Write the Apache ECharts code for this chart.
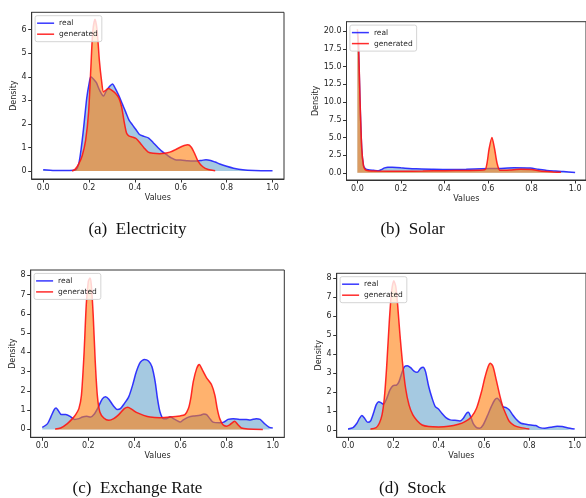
<!DOCTYPE html>
<html>
<head>
<meta charset="utf-8">
<script src="https://cdn.jsdelivr.net/npm/echarts@6/dist/echarts.min.js"></script>
<style>html,body{margin:0;padding:0;background:#fff;}#c{width:586px;height:498px;}</style>
</head>
<body>
<div id="c"></div>
<script>
// ---- data ----
const captions = ['(a)  Electricity', '(b)  Solar', '(c)  Exchange Rate', '(d)  Stock'];
const xTicks = [0, 0.2, 0.4, 0.6, 0.8, 1.0];
const yTicksA = [0, 1, 2, 3, 4, 5, 6];
const yTicksB = [0, 2.5, 5, 7.5, 10, 12.5, 15, 17.5, 20];
const yTicksC = [0, 1, 2, 3, 4, 5, 6, 7, 8];
const yTicksD = [0, 1, 2, 3, 4, 5, 6, 7, 8];

const elecRealX = [0, 0.05, 0.10, 0.14, 0.155, 0.165, 0.176, 0.19, 0.2, 0.208, 0.22, 0.232, 0.245, 0.263, 0.275, 0.29, 0.302, 0.315, 0.33, 0.345, 0.36, 0.375, 0.39, 0.405, 0.42, 0.44, 0.46, 0.48, 0.50, 0.52, 0.54, 0.56, 0.58, 0.60, 0.63, 0.66, 0.69, 0.71, 0.73, 0.75, 0.77, 0.80, 0.83, 0.87, 0.92, 1.0];
const elecRealY = [0.05, 0.02, 0.02, 0.04, 0.3, 0.9, 1.8, 3.1, 3.7, 4.0, 3.9, 3.75, 3.45, 3.18, 3.4, 3.6, 3.7, 3.5, 3.2, 2.85, 2.5, 2.15, 1.95, 1.75, 1.55, 1.47, 1.4, 1.2, 1.0, 0.82, 0.68, 0.55, 0.47, 0.47, 0.43, 0.42, 0.45, 0.48, 0.45, 0.38, 0.3, 0.2, 0.12, 0.05, 0.02, 0.01];
const elecGenX = [0.126, 0.14, 0.155, 0.17, 0.185, 0.198, 0.208, 0.216, 0.226, 0.235, 0.245, 0.255, 0.263, 0.275, 0.285, 0.3, 0.315, 0.33, 0.342, 0.353, 0.364, 0.375, 0.39, 0.405, 0.422, 0.44, 0.458, 0.48, 0.508, 0.53, 0.552, 0.575, 0.595, 0.615, 0.631, 0.645, 0.66, 0.675, 0.696, 0.72, 0.75];
const elecGenY = [0.0, 0.08, 0.3, 0.65, 1.3, 2.5, 4.4, 5.9, 6.45, 6.0, 4.7, 3.8, 3.36, 3.45, 3.5, 3.42, 3.3, 3.1, 2.72, 2.1, 1.6, 1.48, 1.44, 1.38, 1.2, 0.98, 0.8, 0.75, 0.73, 0.75, 0.8, 0.9, 1.0, 1.08, 1.11, 1.02, 0.75, 0.42, 0.18, 0.06, 0.01];

const solarRealX = [0, 0.005, 0.012, 0.02, 0.028, 0.036, 0.05, 0.075, 0.096, 0.11, 0.125, 0.14, 0.16, 0.2, 0.27, 0.35, 0.42, 0.5, 0.57, 0.65, 0.72, 0.795, 0.83, 0.87, 0.91, 0.946, 1.0];
const solarRealY = [19.8, 17.8, 10.2, 3.4, 1.0, 0.6, 0.42, 0.35, 0.3, 0.45, 0.7, 0.8, 0.78, 0.7, 0.56, 0.5, 0.47, 0.5, 0.56, 0.62, 0.7, 0.66, 0.5, 0.33, 0.25, 0.19, 0.05];
const solarGenX = [0, 0.005, 0.012, 0.02, 0.028, 0.036, 0.05, 0.09, 0.2, 0.3, 0.4, 0.5, 0.585, 0.595, 0.605, 0.618, 0.63, 0.642, 0.655, 0.7, 0.75, 0.8, 0.84, 0.9, 0.935];
const solarGenY = [20.3, 18.3, 10.5, 3.5, 1.0, 0.45, 0.3, 0.25, 0.22, 0.25, 0.3, 0.33, 0.42, 1.3, 3.4, 5.0, 3.4, 1.3, 0.35, 0.4, 0.5, 0.45, 0.25, 0.12, 0.06];

const exchRealX = [0, 0.023, 0.037, 0.052, 0.06, 0.069, 0.083, 0.102, 0.121, 0.141, 0.159, 0.174, 0.193, 0.21, 0.224, 0.241, 0.26, 0.274, 0.289, 0.307, 0.325, 0.339, 0.356, 0.375, 0.392, 0.408, 0.425, 0.443, 0.461, 0.476, 0.49, 0.5, 0.511, 0.526, 0.54, 0.555, 0.569, 0.583, 0.598, 0.612, 0.634, 0.655, 0.684, 0.701, 0.713, 0.727, 0.741, 0.77, 0.787, 0.806, 0.828, 0.856, 0.885, 0.902, 0.928, 0.945, 0.964, 0.983, 1.0];
const exchRealY = [0.1, 0.3, 0.64, 1.03, 1.11, 0.99, 0.77, 0.77, 0.68, 0.52, 0.56, 0.64, 0.68, 0.64, 0.77, 1.11, 1.57, 1.69, 1.57, 1.25, 1.04, 1.08, 1.34, 1.69, 2.3, 2.99, 3.48, 3.63, 3.55, 3.25, 2.47, 1.6, 0.9, 0.56, 0.56, 0.66, 0.56, 0.47, 0.38, 0.5, 0.64, 0.7, 0.73, 0.8, 0.77, 0.56, 0.38, 0.35, 0.38, 0.52, 0.56, 0.52, 0.52, 0.49, 0.56, 0.52, 0.3, 0.12, 0.07];
const exchGenX = [0.056, 0.08, 0.109, 0.131, 0.145, 0.159, 0.17, 0.181, 0.191, 0.2, 0.207, 0.213, 0.221, 0.23, 0.239, 0.25, 0.267, 0.289, 0.31, 0.332, 0.356, 0.371, 0.389, 0.411, 0.44, 0.468, 0.511, 0.555, 0.598, 0.619, 0.634, 0.644, 0.655, 0.67, 0.681, 0.695, 0.713, 0.734, 0.749, 0.759, 0.77, 0.784, 0.799, 0.813, 0.835, 0.849, 0.864, 0.892, 0.957];
const exchGenY = [0.02, 0.07, 0.3, 0.56, 0.77, 1.08, 1.77, 3.86, 6.47, 7.69, 7.86, 7.51, 5.95, 3.51, 1.77, 0.9, 0.59, 0.47, 0.56, 0.77, 1.08, 1.15, 1.04, 0.87, 0.73, 0.64, 0.61, 0.64, 0.7, 0.77, 1.08, 1.6, 2.47, 3.17, 3.37, 3.08, 2.68, 2.33, 1.77, 1.08, 0.56, 0.24, 0.17, 0.24, 0.42, 0.24, 0.07, 0.02, 0.0];

const stockRealX = [0, 0.022, 0.039, 0.051, 0.061, 0.073, 0.087, 0.099, 0.112, 0.124, 0.135, 0.145, 0.156, 0.17, 0.185, 0.199, 0.214, 0.225, 0.237, 0.249, 0.262, 0.276, 0.291, 0.305, 0.32, 0.331, 0.342, 0.356, 0.371, 0.385, 0.4, 0.414, 0.432, 0.451, 0.472, 0.494, 0.509, 0.523, 0.531, 0.541, 0.552, 0.567, 0.581, 0.596, 0.618, 0.632, 0.647, 0.658, 0.672, 0.683, 0.698, 0.712, 0.727, 0.741, 0.763, 0.785, 0.807, 0.828, 0.847, 0.868, 0.894, 0.923, 0.945, 0.967, 1.0];
const stockRealY = [0.05, 0.12, 0.35, 0.62, 0.76, 0.62, 0.4, 0.47, 0.88, 1.32, 1.49, 1.44, 1.35, 1.64, 2.11, 2.34, 2.37, 2.55, 2.99, 3.34, 3.39, 3.29, 3.11, 3.04, 3.25, 3.31, 3.08, 2.29, 1.67, 1.23, 1.09, 0.88, 0.65, 0.53, 0.51, 0.47, 0.62, 0.88, 0.93, 0.7, 0.35, 0.12, 0.09, 0.26, 0.83, 1.23, 1.58, 1.67, 1.49, 1.23, 1.18, 1.05, 0.79, 0.58, 0.35, 0.3, 0.26, 0.23, 0.12, 0.09, 0.14, 0.19, 0.18, 0.12, 0.05];
const stockGenX = [0.099, 0.124, 0.138, 0.15, 0.16, 0.17, 0.182, 0.192, 0.202, 0.211, 0.219, 0.228, 0.24, 0.254, 0.269, 0.286, 0.305, 0.327, 0.356, 0.4, 0.443, 0.487, 0.516, 0.545, 0.567, 0.589, 0.603, 0.618, 0.628, 0.64, 0.654, 0.669, 0.683, 0.698, 0.712, 0.734, 0.763, 0.8];
const stockGenY = [0.05, 0.12, 0.35, 0.79, 1.67, 3.25, 5.71, 7.3, 7.88, 7.56, 6.59, 5.19, 3.6, 2.2, 1.32, 0.79, 0.49, 0.26, 0.18, 0.16, 0.19, 0.3, 0.44, 0.7, 1.14, 2.02, 2.73, 3.34, 3.52, 3.34, 2.64, 1.85, 1.23, 0.79, 0.44, 0.23, 0.12, 0.05];

// ---- layout ----
const zip = (xs, ys) => xs.map((x, i) => [x, ys[i]]);
const panels = [
  { grid: {left: 31.7, top: 12.3, width: 252.3, height: 166.7}, ymin: -0.34, ymax: 6.74, yt: yTicksA, yfmt: v => String(v), rx: elecRealX, ry: elecRealY, gx: elecGenX, gy: elecGenY, yGap: 11, cap: [137.5, 230] },
  { grid: {left: 346.5, top: 21.7, width: 243.4, height: 158.3}, ymin: -1.02, ymax: 21.37, yt: yTicksB, yfmt: v => v.toFixed(1), rx: solarRealX, ry: solarRealY, gx: solarGenX, gy: solarGenY, yGap: 22, cap: [412.5, 230] },
  { grid: {left: 30.7, top: 270, width: 253.6, height: 167.3}, ymin: -0.41, ymax: 8.28, yt: yTicksC, yfmt: v => String(v), rx: exchRealX, ry: exchRealY, gx: exchGenX, gy: exchGenY, yGap: 11, cap: [137.5, 489] },
  { grid: {left: 336.7, top: 273.3, width: 252.2, height: 164}, ymin: -0.39, ymax: 8.27, yt: yTicksD, yfmt: v => String(v), rx: stockRealX, ry: stockRealY, gx: stockGenX, gy: stockGenY, yGap: 11, cap: [412.5, 489] }
];

const font = 'DejaVu Sans';
const axisCol = '#333';
const txtCol = '#262626';
const grids = [], xAxes = [], yAxes = [], series = [], legends = [], graphics = [];
panels.forEach((p, i) => {
  grids.push(Object.assign({show: true, borderColor: axisCol, borderWidth: 1, backgroundColor: 'transparent'}, p.grid));
  xAxes.push({
    type: 'value', gridIndex: i, min: -0.05, max: 1.05,
    name: 'Values', nameLocation: 'middle', nameGap: 15,
    nameTextStyle: {fontFamily: font, fontSize: 8, color: txtCol},
    axisLine: {show: true, onZero: false, lineStyle: {color: axisCol, width: 1}},
    axisTick: {show: true, customValues: xTicks, length: 3.5, lineStyle: {color: axisCol}},
    axisLabel: {show: true, customValues: xTicks, formatter: v => v.toFixed(1), margin: 5, fontFamily: font, fontSize: 8, color: txtCol},
    splitLine: {show: false}
  });
  yAxes.push({
    type: 'value', gridIndex: i, min: p.ymin, max: p.ymax,
    name: 'Density', nameLocation: 'middle', nameGap: p.yGap, nameRotate: 90,
    nameTextStyle: {fontFamily: font, fontSize: 8, color: txtCol},
    axisLine: {show: true, onZero: false, lineStyle: {color: axisCol, width: 1}},
    axisTick: {show: true, customValues: p.yt, length: 3.5, lineStyle: {color: axisCol}},
    axisLabel: {show: true, customValues: p.yt, formatter: p.yfmt, margin: 5, fontFamily: font, fontSize: 8, color: txtCol},
    splitLine: {show: false}
  });
  series.push({
    name: 'real', type: 'line', xAxisIndex: i, yAxisIndex: i, data: zip(p.rx, p.ry),
    showSymbol: false, symbol: 'none', smooth: 0.25, color: 'rgba(20,20,255,0.85)',
    lineStyle: {color: 'rgba(20,20,255,0.85)', width: 1.5},
    areaStyle: {color: 'rgba(31,119,180,0.4)', opacity: 1, origin: 0}, z: 2, silent: true
  });
  series.push({
    name: 'generated', type: 'line', xAxisIndex: i, yAxisIndex: i, data: zip(p.gx, p.gy),
    showSymbol: false, symbol: 'none', smooth: 0.25, color: 'rgba(255,20,20,0.9)',
    lineStyle: {color: 'rgba(255,20,20,0.9)', width: 1.5},
    areaStyle: {color: 'rgba(255,127,14,0.6)', opacity: 1, origin: 0}, z: 3, silent: true
  });
  legends.push({
    left: p.grid.left + 3.4, top: p.grid.top + 3.4, orient: 'vertical',
    data: ['real', 'generated'], icon: 'rect', itemWidth: 17, itemHeight: 1.5, itemGap: 2,
    padding: [3, 4, 3, 2], selectedMode: false,
    textStyle: {fontFamily: font, fontSize: 7.5, color: txtCol, lineHeight: 9},
    backgroundColor: 'rgba(255,255,255,0.8)', borderColor: '#d4d4d4', borderWidth: 1, borderRadius: 2
  });
  graphics.push({
    type: 'text', x: p.cap[0], y: p.cap[1],
    style: {text: captions[i], textAlign: 'center', textVerticalAlign: 'middle', font: '17px "Liberation Serif"', fill: '#111'}
  });
});

const chart = echarts.init(document.getElementById('c'), null, {renderer: 'canvas'});
chart.setOption({
  animation: false,
  backgroundColor: '#fff',
  grid: grids, xAxis: xAxes, yAxis: yAxes, series: series, legend: legends, graphic: graphics
});
</script>
</body>
</html>
